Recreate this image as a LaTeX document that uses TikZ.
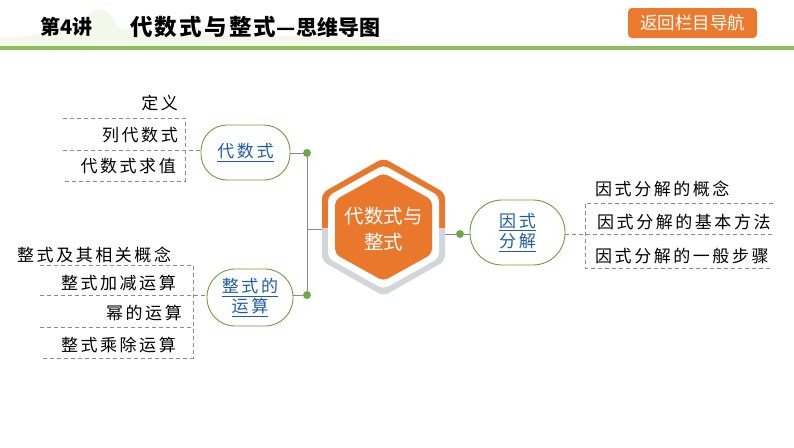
\documentclass[tikz,border=0pt]{standalone}
\usepackage{fontspec}
\newfontfamily\cjk{Noto Sans CJK SC}
\newfontfamily\cjkls{Noto Sans CJK SC}[LetterSpace=15]
\newfontfamily\cjkt{Noto Sans CJK SC}[LetterSpace=10]
\usetikzlibrary{calc}
\definecolor{hdrgreen}{HTML}{8CBF5C}
\definecolor{palegreen}{HTML}{F3F8EA}
\definecolor{orng}{HTML}{E9782D}
\definecolor{btnorng}{HTML}{EC7A2E}
\definecolor{ringgrey}{HTML}{D3D6D9}
\definecolor{nodegreen}{HTML}{6E9C3E}
\definecolor{dotgreen}{HTML}{6FA64A}
\definecolor{linkblue}{HTML}{1F5CA6}
\definecolor{linegrey}{HTML}{8A8A8A}
\tikzset{
  topic/.style={draw=nodegreen, line width=0.9pt, rounded corners=26pt, fill=white,
    font=\cjkls\fontsize{17}{22}\selectfont, text=linkblue, align=center, inner sep=0pt},
  leaf/.style={font=\cjkls\fontsize{17}{20}\selectfont, text=black, inner sep=0pt},
  dashline/.style={draw=linegrey, line width=0.7pt, dash pattern=on 4pt off 3pt},
  conn/.style={draw=linegrey, line width=0.9pt},
  gdot/.style={circle, fill=dotgreen, inner sep=0pt, minimum size=8pt}
}
\begin{document}
\begin{tikzpicture}[x=1pt,y=-1pt]
\useasboundingbox (0,0) rectangle (794,447);
\fill[white] (0,0) rectangle (794,447);
% header decoration
\fill[palegreen] (0,47) -- (0,38) .. controls (40,36) and (70,30) .. (90,14)
  .. controls (100,4) and (110,10) .. (118,28) .. controls (150,36) and (250,34) .. (400,40)
  -- (400,47) -- cycle;
\fill[hdrgreen] (0,46) rectangle (794,50);
\node[anchor=west, inner sep=0pt, font=\cjk\bfseries\fontsize{20}{24}\selectfont] (lec) at (40,27) {第4讲};
\node[anchor=west, inner sep=0pt, font=\cjkt\bfseries\fontsize{22.5}{24}\selectfont] (ttl) at (130,27) {代数式与整式};
\node[anchor=west, inner sep=0pt, font=\cjk\bfseries\fontsize{21}{24}\selectfont] (ttl2) at (ttl.east) {—思维导图};
% button
\node[fill=btnorng, rounded corners=4pt, minimum width=129pt, minimum height=30pt, inner sep=0pt,
  text=white, font=\cjk\fontsize{17.5}{20}\selectfont] (btn) at (692.5,23) {返回栏目导航};

% central hexagon
\begin{scope}
  \clip (300,150) rectangle (470,228);
  \fill[orng, rounded corners=6pt] (383.5,158) -- (445,193) -- (445,261) -- (383.5,296) -- (322,261) -- (322,193) -- cycle;
\end{scope}
\begin{scope}
  \clip (300,228) rectangle (470,310);
  \fill[ringgrey, rounded corners=6pt] (383.5,158) -- (445,193) -- (445,261) -- (383.5,296) -- (322,261) -- (322,193) -- cycle;
\end{scope}
\fill[white, rounded corners=5pt] (383.5,165) -- (439,196) -- (439,258) -- (383.5,289) -- (328,258) -- (328,196) -- cycle;
\fill[orng, rounded corners=5pt] (383.5,173) -- (432,200) -- (432,254) -- (383.5,281) -- (335,254) -- (335,200) -- cycle;
\node[inner sep=0pt, minimum width=123pt, minimum height=138pt] (hub) at (383.5,227) {};
\node[text=white, align=center, font=\cjk\fontsize{19.5}{26}\selectfont, inner sep=0pt] (hubtxt) at (383.5,229) {代数式与\\整式};

% topic nodes
\node[topic, minimum width=89pt, minimum height=55pt] (dss) at (245.5,152.5) {\underline{代数式}};
\node[topic, minimum width=86pt, minimum height=57pt, rounded corners=28pt] (zsys) at (250,297.5) {\underline{整式的}\\[-2pt]\underline{运算}};
\node[topic, minimum width=95pt, minimum height=65pt, rounded corners=32pt] (ysfj) at (517.5,232.5) {\underline{因式}\\[-2pt]\underline{分解}};

% trunk
\node[gdot] (d1) at (307,153) {};
\node[gdot] (d2) at (307,295) {};
\node[gdot] (d3) at (460,234) {};
\coordinate (tm) at (307,229);
\draw[conn] (dss.east |- d1) -- (d1);
\draw[conn] (zsys.east |- d2) -- (d2);
\draw[conn] (d1) -- (d2);
\draw[conn] (tm) -- (hub.west |- tm);
\draw[conn] (hub.east |- d3) -- (d3) -- (ysfj.west |- d3);

% left-top leaves
\node[leaf, anchor=east] (a1) at (178,103) {定义};
\node[leaf, anchor=east] (a2) at (178,135) {列代数式};
\node[leaf, anchor=east] (a3) at (176,166) {代数式求值};
\coordinate (a_t) at (185,118);
\coordinate (a_b) at (185,181);
\draw[dashline] (63,118) -- (a_t) -- (a_b) -- (63,181);
\draw[dashline] (63,150) -- (dss.west |- 0,150);

% left-bottom leaves
\node[leaf, anchor=west] (b1) at (17,255) {整式及其相关概念};
\node[leaf, anchor=east] (b2) at (176,283) {整式加减运算};
\node[leaf, anchor=east] (b3) at (182,313) {幂的运算};
\node[leaf, anchor=east] (b4) at (176,345) {整式乘除运算};
\coordinate (b_t) at (193,265);
\coordinate (b_b) at (193,358);
\draw[dashline] (40,265) -- (b_t) -- (b_b) -- (40,358);
\draw[dashline] (40,295) -- (zsys.west |- 0,295);
\draw[dashline] (40,327) -- (193,327);

% right leaves
\node[leaf, anchor=west] (c1) at (595,189) {因式分解的概念};
\node[leaf, anchor=west] (c2) at (597,222) {因式分解的基本方法};
\node[leaf, anchor=west] (c3) at (595,256) {因式分解的一般步骤};
\coordinate (c_t) at (585,203);
\coordinate (c_b) at (585,268);
\draw[dashline] (773,203) -- (c_t) -- (c_b) -- (773,268);
\draw[dashline] (ysfj.east |- 0,234) -- (773,234);
\end{tikzpicture}
\end{document}
